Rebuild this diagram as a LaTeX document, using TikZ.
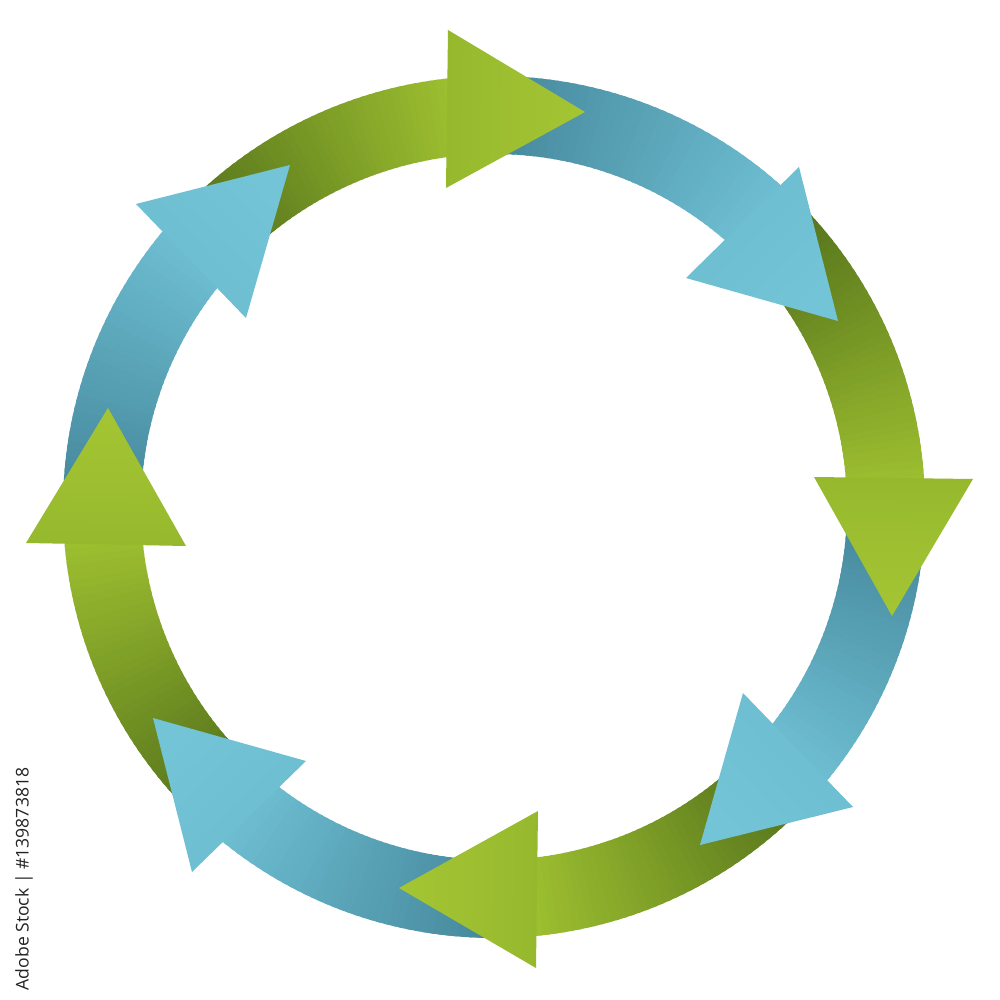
\documentclass[tikz,border=0pt]{standalone}
\usepackage{fontspec}
\newfontfamily\stockfont{Open Sans}
\usepackage{tikz}
\definecolor{LeafDark}{RGB}{86,116,28}
\definecolor{LeafLight}{RGB}{158,192,48}
\definecolor{LeafBase}{RGB}{150,184,45}
\definecolor{LeafTip}{RGB}{164,198,52}
\definecolor{SeaDark}{RGB}{68,134,154}
\definecolor{SeaLight}{RGB}{110,190,210}
\definecolor{SeaBase}{RGB}{108,188,208}
\definecolor{SeaTip}{RGB}{116,196,216}
\definecolor{StampGray}{RGB}{35,35,35}
\tikzset{
  leafhead/.style={top color=LeafTip,bottom color=LeafBase},
  seahead/.style={top color=SeaTip,bottom color=SeaBase},
  stamp/.style={rotate=90,text=StampGray,inner sep=0pt,font=\stockfont\fontsize{5pt}{6pt}\selectfont},
}

\begin{document}
\begin{tikzpicture}[x=0.01cm,y=0.01cm]
\fill[white] (-500,-500) rectangle (500,500);
% ring bodies, tail (dark) to head (light)
\begin{scope}[shift={(-6,-7)}]
\foreach \from/\to/\dark/\light in {
  135.9/94.7/LeafDark/LeafLight,
  91.7/46.9/SeaDark/SeaLight,
  43.9/2.15/LeafDark/LeafLight,
  -0.85/-40.65/SeaDark/SeaLight,
  -43.65/-85.6/LeafDark/LeafLight,
  -88.6/-130.4/SeaDark/SeaLight,
  -133.4/-176.5/LeafDark/LeafLight,
  180.5/138.9/SeaDark/SeaLight}{
  \foreach \i in {0,...,39}{
    \pgfmathsetmacro{\aa}{\from+(\to-\from)*\i/40}
    \pgfmathsetmacro{\ab}{\from+(\to-\from)*(\i+1.5)/40}
    \pgfmathsetmacro{\pc}{100*\i/39}
    \fill[fill=\light!\pc!\dark] (\aa:353) arc[start angle=\aa,end angle=\ab,radius=353]
      -- (\ab:431) arc[start angle=\ab,end angle=\aa,radius=431] -- cycle;
  }
}
\end{scope}
% arrow heads
\coordinate (top1) at (-52,470);
\coordinate (top2) at (-54,312);
\coordinate (toptip) at (85,388);
\coordinate (tr1) at (299,333);
\coordinate (tr2) at (186,222);
\coordinate (trtip) at (338,179);
\coordinate (right1) at (314,23);
\coordinate (right2) at (473,21);
\coordinate (righttip) at (392,-116);
\coordinate (br1) at (243,-193);
\coordinate (br2) at (353,-307);
\coordinate (brtip) at (200,-345);
\coordinate (bottom1) at (38,-311);
\coordinate (bottom2) at (36,-468);
\coordinate (bottomtip) at (-101,-388);
\coordinate (bl1) at (-194,-261);
\coordinate (bl2) at (-308,-372);
\coordinate (bltip) at (-347,-218);
\coordinate (left1) at (-474,-43);
\coordinate (left2) at (-314,-46);
\coordinate (lefttip) at (-392,92);
\coordinate (tl1) at (-364,296);
\coordinate (tl2) at (-254,182);
\coordinate (tltip) at (-210,335);
\shade[leafhead,shading angle=-91] (top1) -- (toptip) -- (top2) -- cycle;
\shade[seahead,shading angle=-136] (tr1) -- (trtip) -- (tr2) -- cycle;
\shade[leafhead,shading angle=179] (right1) -- (righttip) -- (right2) -- cycle;
\shade[seahead,shading angle=134] (br1) -- (brtip) -- (br2) -- cycle;
\shade[leafhead,shading angle=89] (bottom1) -- (bottomtip) -- (bottom2) -- cycle;
\shade[seahead,shading angle=44] (bl1) -- (bltip) -- (bl2) -- cycle;
\shade[leafhead,shading angle=-1] (left1) -- (lefttip) -- (left2) -- cycle;
\shade[seahead,shading angle=-46] (tl1) -- (tltip) -- (tl2) -- cycle;
% stock id
\node[stamp] (stockid) at (-476,-379) {Adobe Stock | \#139873818};
\end{tikzpicture}
\end{document}
